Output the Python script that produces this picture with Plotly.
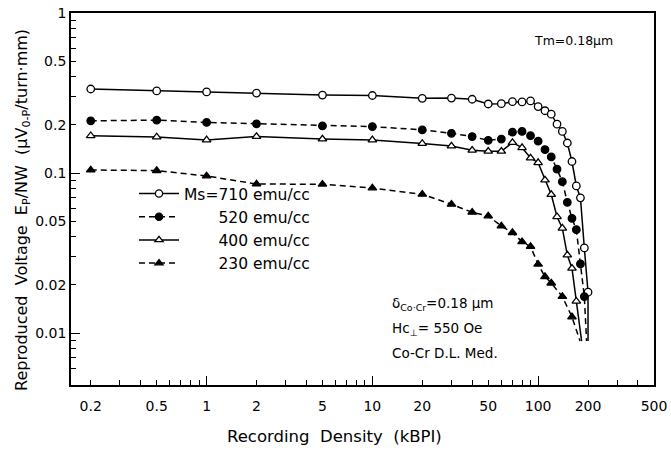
import plotly.graph_objects as go

# ---------------- data ----------------
density_710 = [0.2, 0.5, 1, 2, 5, 10, 20, 30, 40, 50, 60, 70, 80, 90, 100, 110, 120,
               130, 140, 150, 160, 170, 180, 190, 200, 200]
voltage_710 = [0.335, 0.326, 0.321, 0.316, 0.307, 0.305, 0.293, 0.294, 0.289, 0.270, 0.271,
               0.279, 0.278, 0.282, 0.260, 0.245, 0.233, 0.202, 0.182, 0.154, 0.118, 0.083,
               0.070, 0.034, 0.018, 0.0089]

density_520 = [0.2, 0.5, 1, 2, 5, 10, 20, 30, 40, 50, 60, 70, 80, 90, 100, 110, 120,
               130, 140, 150, 160, 170, 180, 190, 196]
voltage_520 = [0.212, 0.214, 0.207, 0.203, 0.197, 0.195, 0.186, 0.177, 0.169, 0.160, 0.163,
               0.180, 0.182, 0.171, 0.158, 0.140, 0.126, 0.1056, 0.0883, 0.0656, 0.0521,
               0.0442, 0.0270, 0.0169, 0.0089]

density_400 = [0.2, 0.5, 1, 2, 5, 10, 20, 30, 40, 50, 60, 70, 80, 90, 100, 110, 120,
               130, 140, 150, 160, 170, 183]
voltage_400 = [0.171, 0.168, 0.161, 0.169, 0.163, 0.161, 0.153, 0.1475, 0.1387, 0.1367,
               0.1367, 0.155, 0.144, 0.124, 0.116, 0.0904, 0.0734, 0.0533, 0.0452, 0.0307,
               0.0254, 0.0158, 0.0089]

density_230 = [0.2, 0.5, 1, 2, 5, 10, 20, 30, 40, 50, 60, 70, 80, 90, 100, 110, 120,
               140, 160, 179]
voltage_230 = [0.1044, 0.1035, 0.0958, 0.0853, 0.0851, 0.0806, 0.0736, 0.0637, 0.0568,
               0.0539, 0.0466, 0.0424, 0.0372, 0.0347, 0.0269, 0.0225, 0.0205, 0.0169,
               0.0126, 0.0089]

series_labels = ["Ms=710 emu/cc", "520 emu/cc", "400 emu/cc", "230 emu/cc"]

x_tick_vals = [0.2, 0.5, 1, 2, 5, 10, 20, 50, 100, 200, 500]
x_tick_text = ["0.2", "0.5", "1", "2", "5", "10", "20", "50", "100", "200", "500"]
x_minor_vals = [0.3, 0.4, 0.6, 0.7, 0.8, 0.9, 3, 4, 6, 7, 8, 9,
                30, 40, 60, 70, 80, 90, 300, 400]
y_tick_vals = [0.01, 0.02, 0.05, 0.1, 0.2, 0.5, 1]
y_tick_text = ["0.01", "0.02", "0.05", "0.1", "0.2", "0.5", "1"]
y_minor_vals = [0.006, 0.007, 0.008, 0.009, 0.03, 0.04, 0.06, 0.07, 0.08, 0.09,
                0.3, 0.4, 0.6, 0.7, 0.8, 0.9]
decade_vals_x = [1, 10, 100]
decade_vals_y = [0.01, 0.1, 1]

# ---------------- layout geometry ----------------
W, H = 671, 453
L, R, T, B = 71, 654, 13, 385
FONT = "DejaVu Sans"


def px(x):
    return (x - L) / (R - L)


def py(y):
    return (B - y) / (B - T)


def marker_sizes(n, size):
    return [size] * (n - 1) + [0]


fig = go.Figure()

styles = [
    (density_710, voltage_710, "circle", "solid", "white"),
    (density_520, voltage_520, "circle", "6px,4px", "black"),
    (density_400, voltage_400, "triangle-up", "solid", "white"),
    (density_230, voltage_230, "triangle-up", "6px,4px", "black"),
]
pad = ["", "\u00a0" * 7, "\u00a0" * 7, "\u00a0" * 7]
for i, (xs, ys, sym, dash, fill) in enumerate(styles):
    fig.add_trace(go.Scatter(
        x=xs, y=ys, mode="lines+markers",
        name=pad[i] + series_labels[i],
        legendgroup="g%d" % i,
        line=dict(color="black", width=1.5, dash=dash),
        marker=dict(symbol=sym, size=marker_sizes(len(xs), 7.5), opacity=1,
                    color=fill, line=dict(color="black", width=1.3)),
    ))

# invisible trace to carry the overlay axes used for long decade ticks
fig.add_trace(go.Scatter(x=[1], y=[1], xaxis="x2", yaxis="y2", mode="markers",
                         marker=dict(opacity=0), showlegend=False, hoverinfo="skip"))

x_range = [-0.818, 2.699]
y_range = [-2.325, 0]

common = dict(showgrid=False, zeroline=False, automargin=False, tickcolor="black")

fig.update_layout(
    template="none",
    width=W, height=H,
    margin=dict(l=L, r=W - R, t=T, b=H - B, autoexpand=False),
    paper_bgcolor="white", plot_bgcolor="white",
    font=dict(family=FONT, size=14, color="black"),
    showlegend=True,
    legend=dict(x=px(134), y=py(177), xanchor="left", yanchor="top",
                bgcolor="rgba(0,0,0,0)", font=dict(size=15.5),
                tracegroupgap=0, itemwidth=40),
    xaxis=dict(type="log", range=x_range, tickvals=x_tick_vals, ticktext=x_tick_text,
               ticks="inside", ticklen=5, tickwidth=1.3,
               showline=True, linecolor="black", linewidth=1.8, mirror=True,
               ticklabelstandoff=7,
               minor=dict(tickvals=x_minor_vals, ticks="inside", ticklen=5,
                          tickwidth=1.3, tickcolor="black", showgrid=False),
               tickfont=dict(size=14), **common),
    yaxis=dict(type="log", range=y_range, tickvals=y_tick_vals, ticktext=y_tick_text,
               ticks="inside", ticklen=5, tickwidth=1.3,
               showline=True, linecolor="black", linewidth=1.8, mirror=True,
               minor=dict(tickvals=y_minor_vals, ticks="inside", ticklen=5,
                          tickwidth=1.3, tickcolor="black", showgrid=False),
               tickfont=dict(size=14), **common),
    xaxis2=dict(type="log", range=x_range, overlaying="x", side="bottom",
                tickvals=decade_vals_x, ticks="inside", ticklen=9, tickwidth=1.3,
                showticklabels=False, showline=False, **common),
    yaxis2=dict(type="log", range=y_range, overlaying="y", side="left",
                tickvals=decade_vals_y, ticks="inside", ticklen=9, tickwidth=1.3,
                showticklabels=False, showline=False, **common),
)

annotations = [
    dict(x=px(615), y=py(40), text="Tm=0.18μm", xanchor="right", yanchor="middle",
         font=dict(size=12.5)),
    dict(x=px(390), y=py(304), text="δ<sub>Co·Cr</sub>=0.18 μm", xanchor="left",
         yanchor="middle", font=dict(size=13.5)),
    dict(x=px(390), y=py(329), text="Hc<sub>⊥</sub>= 550 Oe", xanchor="left",
         yanchor="middle", font=dict(size=13.5)),
    dict(x=px(390), y=py(353), text="Co-Cr D.L. Med.", xanchor="left",
         yanchor="middle", font=dict(size=13.5)),
    dict(x=px(334), y=py(437), text="Recording  Density  (kBPI)", xanchor="center",
         yanchor="middle", font=dict(size=16.5)),
    dict(x=px(22), y=py(210), text="Reproduced  Voltage  E<sub>P</sub>/NW  (μV<sub>0-P</sub>/turn·mm)",
         textangle=-90, xanchor="center", yanchor="middle", font=dict(size=16)),
]
for a in annotations:
    a.update(xref="paper", yref="paper", showarrow=False)
fig.update_layout(annotations=annotations)

fig.write_html("out.html", config={"displayModeBar": False},
               post_script="document.body.style.margin='0';document.body.style.overflow='hidden';")
